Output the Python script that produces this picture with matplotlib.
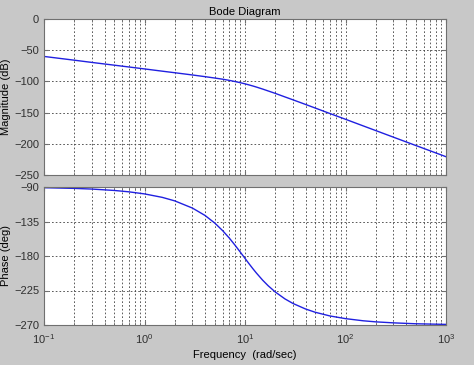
import matplotlib
matplotlib.use("Agg")
import matplotlib.pyplot as plt
from matplotlib.ticker import LogLocator, NullFormatter

# values
freq = [0.1, 0.2, 0.3, 0.5, 0.7, 1, 1.5, 2, 3, 4, 5, 6, 7, 8, 9, 10, 11, 12, 13,
        15, 17, 20, 25, 30, 40, 50, 70, 100, 150, 200, 300, 500, 700, 1000]
mag_db = [-60.0, -66.0, -69.6, -74.0, -76.9, -80.0, -83.6, -86.1, -89.7, -92.4,
          -94.6, -96.5, -98.4, -100.3, -102.1, -103.9, -105.7, -107.4, -109.1,
          -112.3, -115.3, -119.2, -124.9, -129.5, -136.9, -142.7, -151.5, -160.7,
          -171.3, -178.8, -189.4, -202.7, -211.4, -220.7]
phase_deg = [-90.9, -91.8, -92.7, -94.5, -96.3, -99.0, -103.5, -108.1, -117.5,
             -127.1, -137.0, -147.0, -156.8, -166.3, -175.1, -183.1, -190.3,
             -196.7, -202.3, -211.6, -218.8, -226.9, -236.0, -241.9, -249.1,
             -253.4, -258.2, -261.7, -264.5, -265.9, -267.2, -268.4, -268.8, -269.2]
mag_ticks = [0, -50, -100, -150, -200, -250]
phase_ticks = [-90, -135, -180, -225, -270]

plt.rcParams["font.family"] = ["Liberation Sans", "DejaVu Sans"]
plt.rcParams["mathtext.default"] = "regular"

bg = "#c8c8c8"
fs = 8
fig = plt.figure(figsize=(4.74, 3.65), dpi=100, facecolor=bg)
W, H = 474.0, 365.0


def make_axes(top, bottom):
    return fig.add_axes([44 / W, 1 - bottom / H, (446 - 44) / W, (bottom - top) / H])


ax1 = make_axes(19, 175)
ax2 = make_axes(187, 325)

for ax in (ax1, ax2):
    ax.set_xscale("log")
    ax.set_xlim(0.1, 1000)
    ax.set_facecolor("white")
    ax.xaxis.set_major_locator(LogLocator(base=10, numticks=10))
    ax.xaxis.set_minor_locator(LogLocator(base=10, subs=range(2, 10), numticks=10))
    ax.xaxis.set_minor_formatter(NullFormatter())
    ax.grid(True, which="both", axis="x", color="#404040", linestyle=(0, (2, 2.5)), linewidth=0.6)
    ax.grid(True, which="major", axis="y", color="#404040", linestyle=(0, (2, 2.5)), linewidth=0.6)
    ax.tick_params(which="both", direction="in", top=True, right=True,
                   colors="#707070", labelcolor="#303030", labelsize=fs, length=3)
    ax.tick_params(which="minor", length=2)
    for s in ax.spines.values():
        s.set_color("#707070")
        s.set_linewidth(0.8)

ax1.plot(freq, mag_db, color="#2020e0", linewidth=1.0)
ax1.set_ylim(-250, 0)
ax1.set_yticks(mag_ticks)
ax1.tick_params(axis="x", which="both", labelbottom=False)
ax1.set_ylabel("Magnitude (dB)", fontsize=fs, labelpad=2)
ax1.set_title("Bode Diagram", fontsize=fs, pad=3)

ax2.plot(freq, phase_deg, color="#2020e0", linewidth=1.0)
ax2.set_ylim(-270, -90)
ax2.set_yticks(phase_ticks)
ax2.set_ylabel("Phase (deg)", fontsize=fs, labelpad=2)
ax2.set_xlabel("Frequency  (rad/sec)", fontsize=fs, labelpad=3)
ax2.tick_params(axis="x", pad=5)

fig.savefig("out.png", dpi=100, facecolor=bg)
